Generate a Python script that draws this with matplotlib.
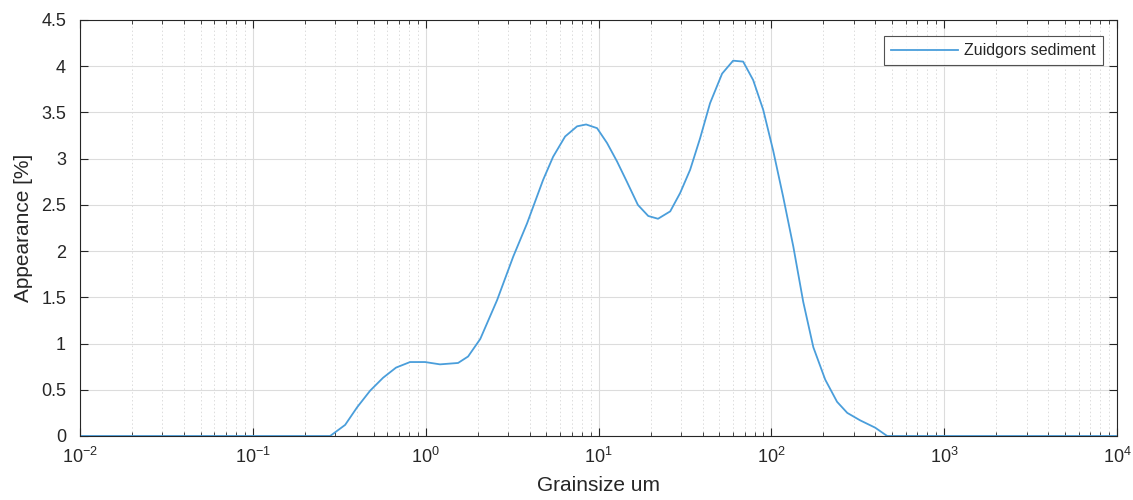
import matplotlib
matplotlib.use("Agg")
import matplotlib.pyplot as plt
from matplotlib.ticker import FixedLocator, NullFormatter
import numpy as np

plt.rcParams['font.family'] = ['Liberation Sans', 'DejaVu Sans']
plt.rcParams['mathtext.default'] = 'regular'

# grain size (um) and appearance (%)
grainsize = [0.01, 0.28, 0.342, 0.401, 0.477, 0.567, 0.674, 0.812, 0.992, 1.21,
             1.54, 1.76, 2.07, 2.59, 3.21, 3.86, 4.78, 5.46, 6.41, 7.52,
             8.48, 9.81, 11.2, 12.8, 14.6, 16.9, 19.4, 22.1, 26.0, 29.7,
             33.9, 38.7, 44.2, 51.9, 60.1, 68.7, 78.5, 89.7, 102.4, 117,
             134, 153, 175, 205, 240, 275, 326, 399, 468, 10000]
appearance = [0, 0, 0.12, 0.31, 0.49, 0.63, 0.74, 0.80, 0.80, 0.775,
              0.79, 0.86, 1.05, 1.47, 1.94, 2.30, 2.77, 3.02, 3.24, 3.35,
              3.37, 3.33, 3.17, 2.97, 2.75, 2.50, 2.38, 2.35, 2.43, 2.63,
              2.88, 3.22, 3.60, 3.92, 4.06, 4.05, 3.85, 3.53, 3.09, 2.59,
              2.05, 1.45, 0.96, 0.61, 0.37, 0.25, 0.17, 0.09, 0, 0]

series_label = 'Zuidgors sediment'
x_label = 'Grainsize um'
y_label = 'Appearance [%]'
x_ticks = [1e-2, 1e-1, 1e0, 1e1, 1e2, 1e3, 1e4]
x_ticklabels = ['$10^{-2}$', '$10^{-1}$', '$10^{0}$', '$10^{1}$', '$10^{2}$', '$10^{3}$', '$10^{4}$']
y_ticks = [0, 0.5, 1, 1.5, 2, 2.5, 3, 3.5, 4, 4.5]
y_ticklabels = ['0', '0.5', '1', '1.5', '2', '2.5', '3', '3.5', '4', '4.5']

fig = plt.figure(figsize=(11.33, 5.0), dpi=100)
ax = fig.add_axes([80/1133, 64/500, 1037/1133, 416/500])

ax.plot(grainsize, appearance, color='#4a9edb', lw=1.3, label=series_label)
ax.set_xscale('log')
ax.set_xlim(1e-2, 1e4)
ax.set_ylim(0, 4.5)
ax.xaxis.set_major_locator(FixedLocator(x_ticks))
ax.set_xticklabels(x_ticklabels)
minor = [m * d for d in x_ticks[:-1] for m in range(2, 10)]
ax.xaxis.set_minor_locator(FixedLocator(minor))
ax.xaxis.set_minor_formatter(NullFormatter())
ax.set_yticks(y_ticks)
ax.set_yticklabels(y_ticklabels)

ax.grid(True, which='major', color='#dcdcdc', lw=0.8, ls='-')
ax.grid(True, which='minor', axis='x', color='#dcdcdc', lw=0.7, ls=(0, (1.5, 2.5)))
ax.set_axisbelow(True)

tc = '#262626'
for s in ax.spines.values():
    s.set_color(tc)
    s.set_linewidth(0.8)
ax.tick_params(which='both', direction='in', top=True, right=True, colors=tc,
               labelsize=13, labelcolor=tc)
ax.tick_params(which='major', length=6, width=0.8)
ax.tick_params(which='minor', length=3, width=0.6)
ax.tick_params(axis='x', which='major', pad=8)
ax.tick_params(axis='y', which='major', pad=10)

ax.set_xlabel(x_label, fontsize=15, color=tc, labelpad=6)
ax.set_ylabel(y_label, fontsize=15, color=tc, labelpad=6)

leg = ax.legend(loc='upper right', fontsize=11.5, frameon=True, fancybox=False,
                bbox_to_anchor=(1103/1133, 464/500), bbox_transform=fig.transFigure,
                borderaxespad=0, handlelength=4.2, handletextpad=0.4, borderpad=0.45)
leg.get_frame().set_edgecolor(tc)
leg.get_frame().set_linewidth(0.8)
for t in leg.get_texts():
    t.set_color(tc)

fig.savefig('out.png', dpi=100)
